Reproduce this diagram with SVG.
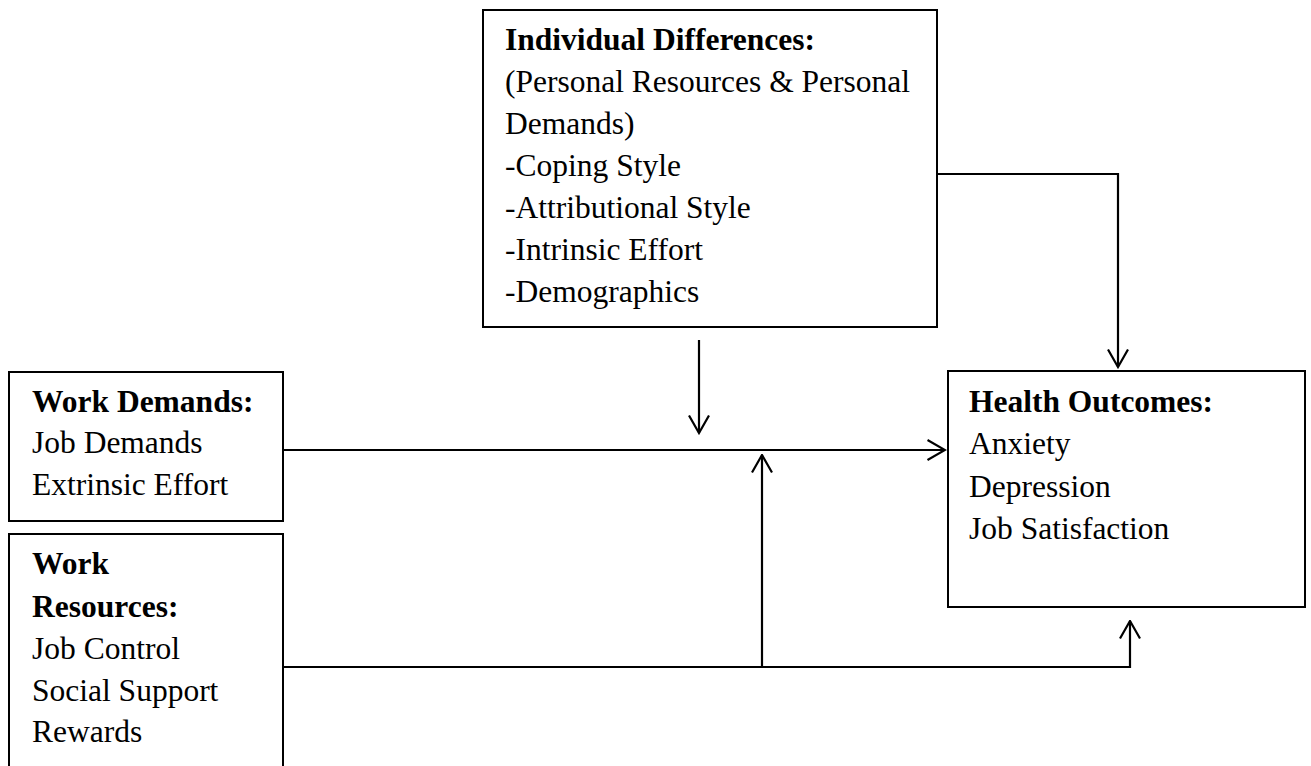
<svg xmlns="http://www.w3.org/2000/svg" width="1311" height="766" viewBox="0 0 1311 766">
<style>
.box{fill:#fff;stroke:#000;stroke-width:2}
.t{font-family:"Liberation Serif","Times New Roman",serif;font-size:31.5px;fill:#000}
.b{font-weight:bold}
.c{fill:none;stroke:#000;stroke-width:2.2}
</style>
<defs>
<marker id="arr" viewBox="0 0 20 22" refX="18.5" refY="11" markerWidth="20" markerHeight="22" markerUnits="userSpaceOnUse" orient="auto">
<path d="M1,1 L18.5,11 L1,21" fill="none" stroke="#000" stroke-width="2.2"/>
</marker>
</defs>
<rect width="1311" height="766" fill="#fff"/>
<g id="individual-differences">
<rect class="box" x="483" y="10" width="454" height="317"/>
<text class="t b" x="505" y="50">Individual Differences:</text>
<text class="t" x="505" y="92">(Personal Resources &amp; Personal</text>
<text class="t" x="505" y="134">Demands)</text>
<text class="t" x="505" y="176">-Coping Style</text>
<text class="t" x="505" y="218">-Attributional Style</text>
<text class="t" x="505" y="260">-Intrinsic Effort</text>
<text class="t" x="505" y="302">-Demographics</text>
</g>
<g id="work-demands">
<rect class="box" x="9" y="372" width="274" height="149"/>
<text class="t b" x="32" y="412">Work Demands:</text>
<text class="t" x="32" y="453">Job Demands</text>
<text class="t" x="32" y="495">Extrinsic Effort</text>
</g>
<g id="work-resources">
<rect class="box" x="9" y="534" width="274" height="240"/>
<text class="t b" x="32" y="574">Work</text>
<text class="t b" x="32" y="617">Resources:</text>
<text class="t" x="32" y="659">Job Control</text>
<text class="t" x="32" y="701">Social Support</text>
<text class="t" x="32" y="742">Rewards</text>
</g>
<g id="health-outcomes">
<rect class="box" x="948" y="371" width="357" height="236"/>
<text class="t b" x="969" y="412">Health Outcomes:</text>
<text class="t" x="969" y="454">Anxiety</text>
<text class="t" x="969" y="497">Depression</text>
<text class="t" x="969" y="539">Job Satisfaction</text>
</g>
<g id="connectors">
<path class="c" d="M283,450 H945" marker-end="url(#arr)"/>
<path class="c" d="M937,174 H1118 V367" marker-end="url(#arr)"/>
<path class="c" d="M699,340 V433" marker-end="url(#arr)"/>
<path class="c" d="M283,667 H1130 V621" marker-end="url(#arr)"/>
<path class="c" d="M762,667 V455" marker-end="url(#arr)"/>
</g>
</svg>
